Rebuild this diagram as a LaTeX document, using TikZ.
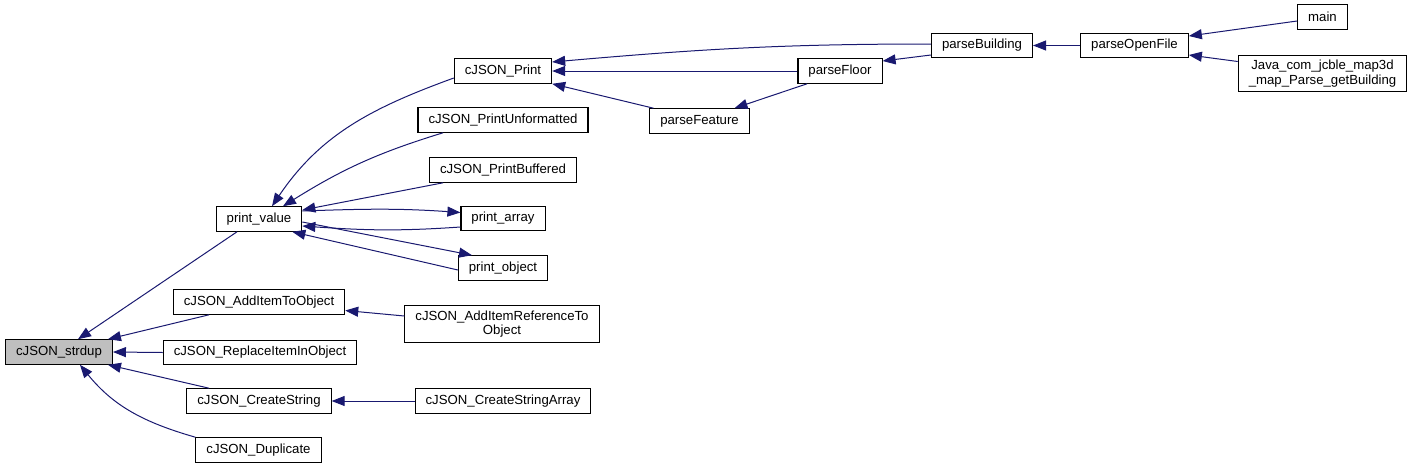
\documentclass[tikz,border=0pt]{standalone}
\usepackage{fontspec}
\setmainfont{Liberation Sans}
\usepackage{xcolor}
\usepackage{tikz}
\usetikzlibrary{arrows.meta}
\definecolor{navyx}{HTML}{191970}
\definecolor{grayx}{HTML}{BFBFBF}
\tikzset{
  ar/.style={-{Triangle[length=13pt,width=10pt]},line width=1pt,navyx},
  box/.style={draw=black,line width=1.1pt,fill=white,align=center,inner xsep=10.5pt,inner ysep=5pt,
    minimum height=24.5pt,font=\fontsize{13.2}{14.5}\selectfont}
}
\begin{document}
\begin{tikzpicture}[x=1pt,y=-1pt]
\useasboundingbox (0,0) rectangle (1413,469);
\node[box,fill=grayx] (strdup) at (59,352) {cJSON\_strdup};
\node[box] (pvalue) at (259,219) {print\_value};
\node[box] (additem) at (259,302) {cJSON\_AddItemToObject};
\node[box] (replace) at (260,352.5) {cJSON\_ReplaceItemInObject};
\node[box] (cstring) at (259,401) {cJSON\_CreateString};
\node[box] (dup) at (258.5,450) {cJSON\_Duplicate};
\node[box] (cprint) at (503,71) {cJSON\_Print};
\node[box] (punfmt) at (503,120) {cJSON\_PrintUnformatted};
\node[box] (pbuf) at (503,170) {cJSON\_PrintBuffered};
\node[box] (parray) at (503,218.5) {print\_array};
\node[box] (pobject) at (503,268) {print\_object};
\node[box] (additemref) at (502,324) {cJSON\_AddItemReferenceTo\\Object};
\node[box] (cstrarr) at (503,401) {cJSON\_CreateStringArray};
\node[box] (pfloor) at (840,71) {parseFloor};
\node[box] (pfeature) at (699.5,121) {parseFeature};
\node[box] (pbuild) at (982,45.5) {parseBuilding};
\node[box] (popen) at (1134.5,45.5) {parseOpenFile};
\node[box] (mainf) at (1322.5,17) {main};
\node[box] (java) at (1322.5,73.5) {Java\_com\_jcble\_map3d\\\_map\_Parse\_getBuilding};

\draw[ar] ([xshift=-22pt]pvalue.south) -- ([xshift=19pt]strdup.north);
\draw[ar] ([xshift=-50pt]additem.south) -- ([xshift=-5pt]strdup.north east);
\draw[ar] (replace.west) -- (strdup.east);
\draw[ar] ([xshift=-50pt]cstring.north) -- ([xshift=-5pt]strdup.south east);
\draw[ar] (dup.north west) to[out=164,in=-51] ([xshift=21pt]strdup.south);
\draw[ar] ([yshift=-7pt]cprint.west) to[out=200,in=56] ([xshift=13pt]pvalue.north);
\draw[ar] ([xshift=-60pt]punfmt.south) to[out=197,in=32] ([xshift=24pt]pvalue.north);
\draw[ar] ([xshift=-60pt]pbuf.south) -- ([yshift=9pt]pvalue.east);
\draw[ar] ([yshift=8pt]pvalue.east) to[out=2,in=176] ([yshift=6pt]parray.west);
\draw[ar] ([yshift=-8.5pt]parray.west) to[out=184,in=-4] ([yshift=-7pt]pvalue.east);
\draw[ar] ([yshift=-3pt]pvalue.east) -- ([xshift=-31pt]pobject.north);
\draw[ar] ([yshift=-2pt]pobject.west) -- ([xshift=-10pt]pvalue.south east);
\draw[ar] ([yshift=8pt]additemref.west) -- ([yshift=-8.5pt]additem.east);
\draw[ar] (cstrarr.west) -- (cstring.east);
\draw[ar] (pfloor.west) -- (cprint.east);
\draw[ar] ([yshift=1.5pt]pbuild.west) to[out=180,in=5] ([yshift=9pt]cprint.east);
\draw[ar] ([xshift=-46pt]pfeature.north) -- (cprint.south east);
\draw[ar] ([xshift=-33pt]pfloor.south) -- ([xshift=35pt]pfeature.north);
\draw[ar] ([yshift=-9.5pt]pbuild.west) -- ([yshift=10pt]pfloor.east);
\draw[ar] (popen.west) -- (pbuild.east);
\draw[ar] ([yshift=-4pt]mainf.west) -- ([yshift=9.5pt]popen.east);
\draw[ar] ([yshift=12pt]java.west) -- ([yshift=-9.5pt]popen.east);
\end{tikzpicture}
\end{document}
